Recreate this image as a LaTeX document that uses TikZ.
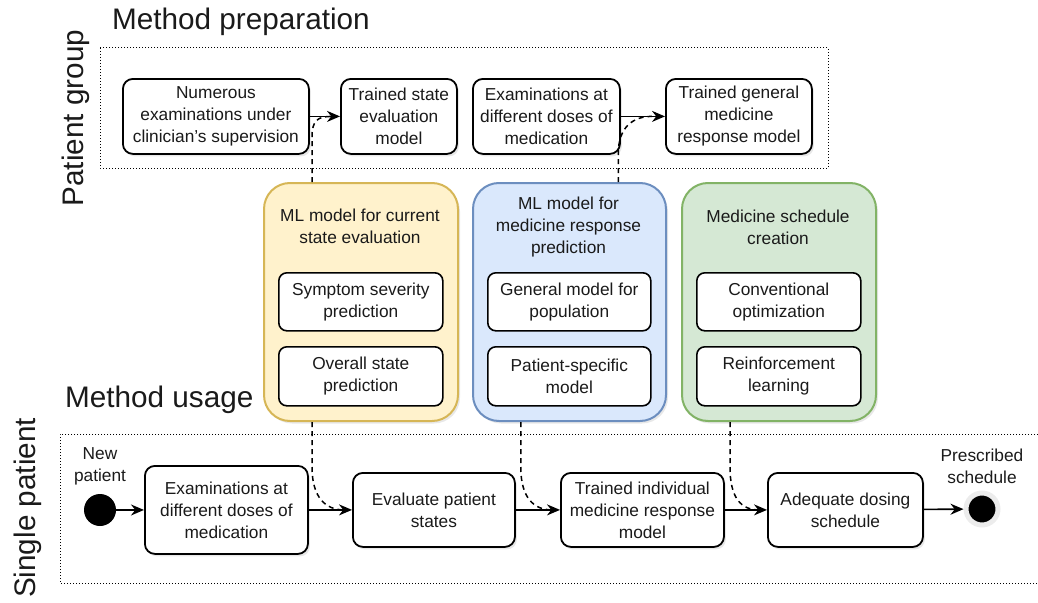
\documentclass[tikz,border=0pt]{standalone}
\usepackage{fontspec}
\setmainfont{Liberation Sans}
\usetikzlibrary{arrows.meta,shadows,calc}
\definecolor{yfill}{HTML}{FFF2CC}\definecolor{ydraw}{HTML}{D6B656}
\definecolor{bfill}{HTML}{DAE8FC}\definecolor{bdraw}{HTML}{6C8EBF}
\definecolor{gfill}{HTML}{D5E8D4}\definecolor{gdraw}{HTML}{82B366}
\definecolor{txt}{HTML}{1A1A1A}
\begin{document}
\begin{tikzpicture}[x=1pt,y=-1pt,
  every node/.style={font=\fontsize{17.3}{22}\selectfont, align=center, inner sep=0pt, text=txt},
  shad/.style={drop shadow={opacity=0.18, shadow xshift=2pt, shadow yshift=-2.5pt}},
  box/.style={draw=black, line width=1.8pt, rounded corners=10pt, fill=white, shad, anchor=north west},
  inbox/.style={draw=black, line width=1.6pt, rounded corners=8pt, fill=white, anchor=north west},
  group/.style={line width=2pt, rounded corners=26pt, shad, anchor=north west, minimum width=194, minimum height=238},
  title/.style={font=\fontsize{29.7}{34}\selectfont},
  zone/.style={draw=black, dotted, line width=1pt},
  flow/.style={-{Stealth[length=13pt,width=11pt]}, line width=1.6pt},
  dep/.style={dash pattern=on 5pt off 4pt, line width=1.5pt},
  dot/.style={circle, fill=black, minimum size=32, inner sep=0pt}
]
\useasboundingbox (0,0) rectangle (1038,602);

% titles
\node[title, anchor=base west] (mp) at (112,30) {Method preparation};
\node[title, anchor=base west] (mu) at (65,407) {Method usage};
\node[title, rotate=90, anchor=base] (pg) at (83,118) {Patient group};
\node[title, rotate=90, anchor=base] (sp) at (35,508) {Single patient};

% zones
\draw[zone] (100,48) rectangle (828,168);
\draw[zone] (1038,434) -- (60,434) -- (60,583) -- (1038,583);

% top row
\node[box, minimum width=186, minimum height=75] (n1) at (122,78) {Numerous\\examinations under\\clinician's supervision};
\node[box, minimum width=116, minimum height=75] (n2) at (340,78) {Trained state\\evaluation\\model};
\node[box, minimum width=147, minimum height=75] (n3) at (472,78) {Examinations at\\different doses of\\medication};
\node[box, minimum width=146, minimum height=75] (n4) at (665,78) {Trained general\\medicine\\response model};
\draw[flow] (n1) -- (n2);
\draw[flow] (n3) -- (n4);

% groups
\node[group, draw=ydraw, fill=yfill] (yg) at (263,182) {};
\node[group, draw=bdraw, fill=bfill, minimum width=193] (bg) at (472,182) {};
\node[group, draw=gdraw, fill=gfill] (gg) at (681,182) {};
\node (yt) at (360,226) {ML model for current\\state evaluation};
\node (bt) at (568.5,227) {ML model for\\medicine response\\prediction};
\node (gt) at (778,227) {Medicine schedule\\creation};
\node[inbox, minimum width=164, minimum height=58] (y1) at (278,272) {Symptom severity\\prediction};
\node[inbox, minimum width=164, minimum height=59] (y2) at (278,346) {Overall state\\prediction};
\node[inbox, minimum width=163, minimum height=58] (b1i) at (487,272) {General model for\\population};
\node[inbox, minimum width=163, minimum height=59] (b2i) at (487,346) {Patient-specific\\model};
\node[inbox, minimum width=164, minimum height=58] (g1) at (696,272) {Conventional\\optimization};
\node[inbox, minimum width=164, minimum height=59] (g2) at (696,346) {Reinforcement\\learning};

% bottom row
\node[dot] (start) at (100,510) {};
\node (np) at (100,466) {New\\patient};
\node[box, minimum width=163, minimum height=88] (b1) at (144,465) {Examinations at\\different doses of\\medication};
\node[box, minimum width=162, minimum height=74] (b2) at (352,472) {Evaluate patient\\states};
\node[box, minimum width=163, minimum height=74] (b3) at (560,472) {Trained individual\\medicine response\\model};
\node[box, minimum width=155, minimum height=74] (b4) at (767,472) {Adequate dosing\\schedule};
\node[circle, draw=gray!15, line width=5pt, fill=black, minimum size=32] (end) at (982,509) {};
\node (ps) at (982,466) {Prescribed\\schedule};
\draw[flow] (start) -- (b1);
\draw[flow] (b1) -- (b2);
\draw[flow] (b2) -- (b3);
\draw[flow] (b3) -- (b4);
\draw[flow] (b4) -- (end);

% dependency connectors
\coordinate (t1) at ($(n2.west)+(-8,0)$);
\coordinate (t2) at ($(n4.west)+(-13,0)$);
\coordinate (u1) at ($(b2.west)+(-8,0)$);
\coordinate (u2) at ($(b3.west)+(-8,0)$);
\coordinate (u3) at ($(b4.west)+(-8,0)$);
\coordinate (ya) at ($(yg.north west)!0.25!(yg.north east)$);
\coordinate (ba) at ($(bg.north west)!0.75!(bg.north east)$);
\coordinate (yb) at ($(yg.south west)!0.25!(yg.south east)$);
\coordinate (bb) at ($(bg.south west)!0.25!(bg.south east)$);
\coordinate (gb) at ($(gg.south west)!0.25!(gg.south east)$);
\draw[dep] (ya) -- ++(0,-45) .. controls ($(ya)+(0,-62)$) and ($(t1)+(-14,0)$) .. (t1);
\draw[dep] (ba) -- ++(0,-28) .. controls ($(ba)+(0,-56)$) and ($(t2)+(-18,0)$) .. (t2);
\draw[dep] (yb) -- ++(0,45) .. controls ($(yb)+(0,76)$) and ($(u1)+(-18,0)$) .. (u1);
\draw[dep] (bb) -- ++(0,45) .. controls ($(bb)+(0,76)$) and ($(u2)+(-18,0)$) .. (u2);
\draw[dep] (gb) -- ++(0,45) .. controls ($(gb)+(0,76)$) and ($(u3)+(-18,0)$) .. (u3);
\end{tikzpicture}
\end{document}
